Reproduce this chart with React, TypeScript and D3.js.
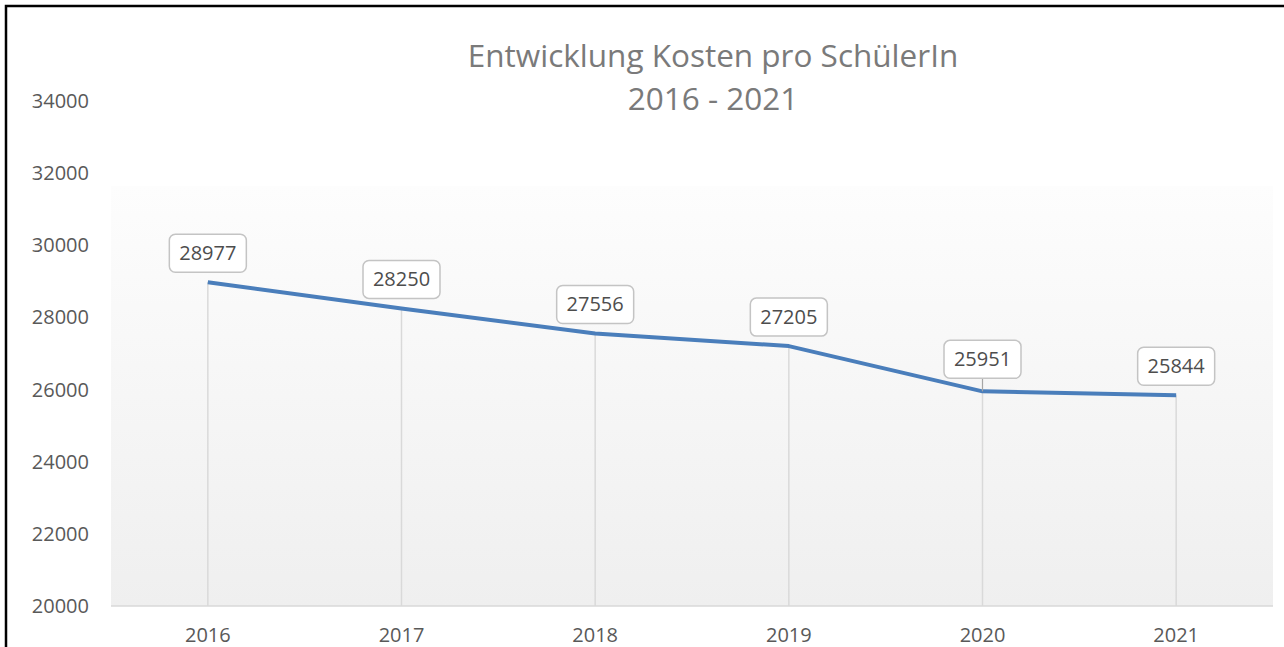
import React from "react";
import * as d3 from "d3";

const years = ["2016", "2017", "2018", "2019", "2020", "2021"];
const costs = [28977, 28250, 27556, 27205, 25951, 25844];
const yTicks = [20000, 22000, 24000, 26000, 28000, 30000, 32000, 34000];
const titleLines = ["Entwicklung Kosten pro SchülerIn", "2016 - 2021"];

const W = 1284;
const H = 647;
const plot = { left: 111, right: 1273, top: 186, bottom: 606 };

export default function App() {
  const x = d3.scaleBand<string>().domain(years).range([plot.left, plot.right]).padding(0);
  const y = d3.scaleLinear().domain([20000, 34000]).range([606, 101]);
  const cx = (yr: string) => (x(yr) ?? 0) + x.bandwidth() / 2;
  const line = d3
    .line<number>()
    .x((_, i) => cx(years[i]))
    .y((d) => y(d));
  const font = "'Open Sans', 'Noto Sans', sans-serif";
  const boxW = 77;
  const boxH = 38;
  return (
    <div style={{ position: "fixed", left: 0, top: 0 }}>
      <svg width={W} height={H} style={{ display: "block", background: "#fff" }}>
        <defs>
          <linearGradient id="bg" x1="0" y1="0" x2="0" y2="1">
            <stop offset="0" stopColor="#fdfdfd" />
            <stop offset="1" stopColor="#efefef" />
          </linearGradient>
        </defs>
        <rect x={6} y={6} width={W + 20} height={H + 20} fill="#fff" stroke="#000" strokeWidth={2.5} />
        <rect
          x={plot.left}
          y={plot.top}
          width={plot.right - plot.left}
          height={plot.bottom - plot.top}
          fill="url(#bg)"
        />
        {titleLines.map((t, i) => (
          <text
            key={i}
            x={713}
            y={67 + i * 43}
            textAnchor="middle"
            fontFamily={font}
            fontSize={31.5}
            fill="#7a7a7a"
          >
            {t}
          </text>
        ))}
        {yTicks.map((t) => (
          <text
            key={t}
            x={89}
            y={y(t)}
            dy="0.35em"
            textAnchor="end"
            fontFamily={font}
            fontSize={20}
            fill="#595959"
          >
            {t}
          </text>
        ))}
        {years.map((yr, i) => (
          <line
            key={"d" + yr}
            x1={cx(yr)}
            x2={cx(yr)}
            y1={y(costs[i])}
            y2={plot.bottom}
            stroke="#d9d9d9"
            strokeWidth={1.5}
          />
        ))}
        <line x1={plot.left} x2={plot.right} y1={plot.bottom} y2={plot.bottom} stroke="#d9d9d9" strokeWidth={1.5} />
        {years.map((yr) => (
          <text
            key={"x" + yr}
            x={cx(yr)}
            y={635}
            dy="0.35em"
            textAnchor="middle"
            fontFamily={font}
            fontSize={20}
            fill="#595959"
          >
            {yr}
          </text>
        ))}
        <path d={line(costs) ?? ""} fill="none" stroke="#4a7ebb" strokeWidth={4} strokeLinejoin="round" />
        {years.map((yr, i) => {
          const px = cx(yr);
          const py = y(costs[i]);
          const gap = i === 4 ? 13 : 10;
          const bx = px - boxW / 2;
          const by = py - gap - boxH;
          return (
            <g key={"l" + yr}>
              {i === 4 && (
                <line x1={px} x2={px} y1={by + boxH} y2={py} stroke="#a6a6a6" strokeWidth={1.2} />
              )}
              <rect x={bx} y={by} width={boxW} height={boxH} rx={6} fill="#fff" stroke="#c4c4c4" strokeWidth={1.5} />
              <text
                x={px}
                y={by + boxH / 2}
                dy="0.35em"
                textAnchor="middle"
                fontFamily={font}
                fontSize={20}
                fill="#4d4d4d"
              >
                {costs[i]}
              </text>
            </g>
          );
        })}
      </svg>
    </div>
  );
}
